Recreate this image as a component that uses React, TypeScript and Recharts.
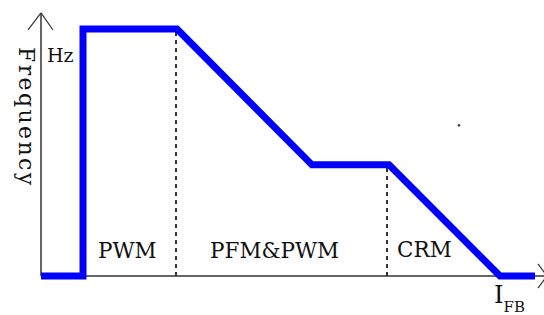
import React from "react";
import { LineChart, Line, XAxis, YAxis, ReferenceLine, ReferenceDot } from "recharts";

// feedback current (arbitrary units 0..100) and frequency level (0..100)
const curveX = [0, 8.4, 8.4, 27.2, 54.2, 69.6, 91.8, 98.8];
const curveY = [0, 0, 100, 100, 45, 45, 0, 0];

const regionNames = ["PWM", "PFM&PWM", "CRM"];
const regionLabelX = [11.4, 33.8, 71.2];
const regionLabelY = [7.3, 7.3, 7.7];

const boundaryX = [27, 69.2];
const boundaryTop = [100, 45];

const data = curveX.map((x, i) => ({ x, f: curveY[i] }));

const textColor = "#111";
const font = "'DejaVu Serif', serif";

const TextAt = (txt: string, size: number, rotate = 0, extra?: React.ReactNode, spacing = 0) => (p: any) => (
  <text
    x={p.cx}
    y={p.cy}
    fontFamily={font}
    fontSize={size}
    fill={textColor}
    letterSpacing={spacing || undefined}
    transform={rotate ? `rotate(${rotate}, ${p.cx}, ${p.cy})` : undefined}
  >
    {txt}
    {extra}
  </text>
);

const axisStroke = "#333";

export default function App() {
  return (
    <div style={{ position: "absolute", left: 0, top: 0, width: 544, height: 315, background: "#fff" }}>
      <LineChart width={544} height={315} data={data} margin={{ top: 29, right: 3, bottom: 39, left: 41 }}>
        <XAxis dataKey="x" type="number" domain={[0, 100]} hide />
        <YAxis type="number" domain={[0, 100]} hide />

        {/* axes with arrow heads */}
        <ReferenceLine segment={[{ x: 0, y: 0 }, { x: 0, y: 106.5 }]} stroke={axisStroke} strokeWidth={1.5} ifOverflow="visible" />
        <ReferenceLine segment={[{ x: -2.6, y: 99.6 }, { x: 0, y: 106.5 }]} stroke={axisStroke} strokeWidth={1.2} ifOverflow="visible" />
        <ReferenceLine segment={[{ x: 2.4, y: 99.6 }, { x: 0, y: 106.5 }]} stroke={axisStroke} strokeWidth={1.2} ifOverflow="visible" />
        <ReferenceLine segment={[{ x: 0, y: 0 }, { x: 101.2, y: 0 }]} stroke={axisStroke} strokeWidth={1.5} ifOverflow="visible" />
        <ReferenceLine segment={[{ x: 99.4, y: 4.9 }, { x: 101.2, y: 0 }]} stroke={axisStroke} strokeWidth={1.2} ifOverflow="visible" />
        <ReferenceLine segment={[{ x: 99.4, y: -4.9 }, { x: 101.2, y: 0 }]} stroke={axisStroke} strokeWidth={1.2} ifOverflow="visible" />

        {boundaryX.map((bx, i) => (
          <ReferenceLine
            key={bx}
            segment={[{ x: bx, y: 0 }, { x: bx, y: boundaryTop[i] }]}
            stroke={axisStroke}
            strokeWidth={2}
            strokeDasharray="4 4"
            ifOverflow="visible"
          />
        ))}

        <Line
          dataKey="f"
          type="linear"
          stroke="#0000ff"
          strokeWidth={7}
          strokeLinejoin="miter"
          dot={false}
          activeDot={false}
          isAnimationActive={false}
        />

        {regionNames.map((name, i) => (
          <ReferenceDot key={name} x={regionLabelX[i]} y={regionLabelY[i]} r={0} ifOverflow="visible" shape={TextAt(name, 21.5)} />
        ))}
        <ReferenceDot x={1.2} y={86.6} r={0} ifOverflow="visible" shape={TextAt("Hz", 19)} />
        <ReferenceDot x={-4.5} y={92.7} r={0} ifOverflow="visible" shape={TextAt("Frequency", 22, 90, undefined, 2.4)} />
        <ReferenceDot
          x={90.6}
          y={-10.9}
          r={0}
          ifOverflow="visible"
          shape={TextAt("I", 24, 0, <tspan fontSize={15} dy={9}>FB</tspan>)}
        />
        <ReferenceDot x={83.6} y={61} r={1.3} fill="#444" stroke="none" ifOverflow="visible" />
      </LineChart>
    </div>
  );
}
